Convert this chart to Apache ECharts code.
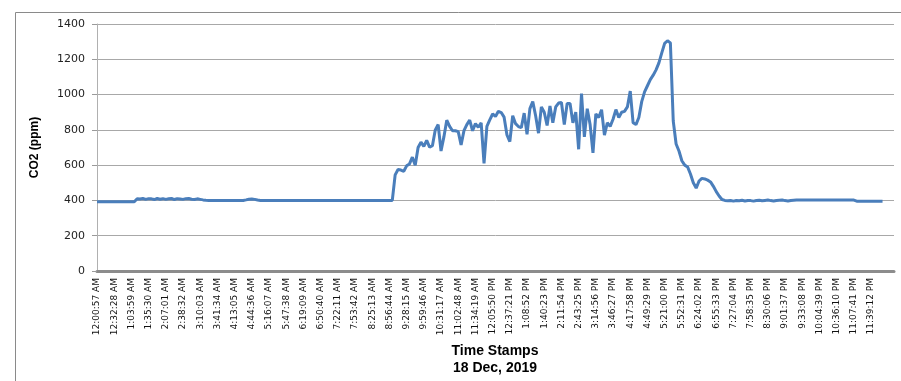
<!DOCTYPE html>
<html>
<head>
<meta charset="utf-8">
<script src="https://cdn.jsdelivr.net/npm/echarts@6/dist/echarts.min.js"></script>
<style>
  html, body { margin: 0; padding: 0; background: #fff; }
  #chart { width: 901px; height: 381px; }
</style>
</head>
<body>
<div id="chart"></div>
<script>
// tick labels shown on the time axis (one every 6 samples)
const tickLabels = ['12:00:57 AM', '12:32:28 AM', '1:03:59 AM', '1:35:30 AM', '2:07:01 AM', '2:38:32 AM',
  '3:10:03 AM', '3:41:34 AM', '4:13:05 AM', '4:44:36 AM', '5:16:07 AM', '5:47:38 AM', '6:19:09 AM',
  '6:50:40 AM', '7:22:11 AM', '7:53:42 AM', '8:25:13 AM', '8:56:44 AM', '9:28:15 AM', '9:59:46 AM',
  '10:31:17 AM', '11:02:48 AM', '11:34:19 AM', '12:05:50 PM', '12:37:21 PM', '1:08:52 PM', '1:40:23 PM',
  '2:11:54 PM', '2:43:25 PM', '3:14:56 PM', '3:46:27 PM', '4:17:58 PM', '4:49:29 PM', '5:21:00 PM',
  '5:52:31 PM', '6:24:02 PM', '6:55:33 PM', '7:27:04 PM', '7:58:35 PM', '8:30:06 PM', '9:01:37 PM',
  '9:33:08 PM', '10:04:39 PM', '10:36:10 PM', '11:07:41 PM', '11:39:12 PM'];
const samplesPerTick = 6;

// CO2 readings (ppm)
const nightLevels = [
  393, 393, 393, 393, 393, 393, 393, 393, 393, 393, 393, 393, 393, 393,
  410, 408, 411, 406, 410, 409, 405, 411, 407, 410, 406, 409, 411, 405, 410, 408, 406, 410, 411, 407, 405, 409, 406, 403, 401,
  400, 400, 400, 400, 400, 400, 400, 400, 400, 400, 400, 400, 400,
  403, 407, 408, 406, 402,
  400, 400, 400, 400, 400, 400, 400, 400, 400, 400, 400, 400, 400, 400, 400, 400, 400, 400, 400, 400, 400, 400, 400, 400,
  400, 400, 400, 400, 400, 400, 400, 400, 400, 400, 400, 400, 400, 400, 400, 400, 400, 400, 400, 400, 400, 400, 400
];
const dayLevels = [
  545, 575, 572, 565, 596, 607, 645, 600, 700, 730, 706, 740, 702, 710, 800, 830, 680, 760, 855, 820,
  795, 795, 790, 715, 795, 830, 855, 795, 835, 815, 840, 610, 820, 857, 890, 876, 905, 898, 872, 771,
  733, 880, 835, 819, 812, 895, 775, 920, 960, 880, 781, 930, 900, 825, 935, 840, 930, 952, 955, 830,
  950, 950, 840, 900, 690, 1005, 760, 920, 830, 670, 890, 870, 914, 770, 840, 820, 860, 915, 870, 900,
  905, 930, 1020, 840, 830, 870, 960, 1015, 1050, 1085, 1110, 1140, 1180, 1236, 1290, 1305, 1293, 850
];
const eveningDecay = [720, 680, 625, 600, 590, 550, 500, 470, 510, 525, 522, 515, 505, 480, 450, 425, 405, 400];
const lateLevels = [
  398, 400, 396, 400, 398, 401, 397, 400, 399, 396, 400, 401, 398, 400, 402, 399, 397, 400, 401, 402, 399, 397, 400, 401, 402, 402,
  402, 402, 402, 402, 402, 402, 402, 402, 402, 402, 402, 402, 402, 402, 402, 402, 402, 402, 402,
  396, 396, 396, 396, 396, 396, 396, 396, 396, 396
];

const co2 = nightLevels.concat(dayLevels, eveningDecay, lateLevels);
const slotCount = tickLabels.length * samplesPerTick + 3;
const slots = [];
for (let i = 0; i < slotCount; i++) slots.push('t' + i);

const chart = echarts.init(document.getElementById('chart'));

const options = {
  animation: false,
  grid: {
    left: 97,
    right: 7,
    top: 24,
    bottom: 110
  },
  graphic: [
    {
      type: 'rect',
      shape: { x: 15.5, y: 12.5, width: 1000, height: 500 },
      style: { fill: 'none', stroke: '#8a8a8a', lineWidth: 1 }
    },
    {
      type: 'text',
      x: 495,
      y: 351,
      style: {
        text: 'Time Stamps',
        font: 'bold 14px "Liberation Sans"',
        fill: '#000',
        align: 'center',
        verticalAlign: 'middle'
      }
    },
    {
      type: 'text',
      x: 495,
      y: 368,
      style: {
        text: '18 Dec, 2019',
        font: 'bold 14px "Liberation Sans"',
        fill: '#000',
        align: 'center',
        verticalAlign: 'middle'
      }
    }
  ],
  xAxis: {
    type: 'category',
    data: slots,
    boundaryGap: false,
    axisLine: {
      lineStyle: { color: '#8c8c8c', width: 3 }
    },
    axisTick: { show: false },
    axisLabel: {
      interval: samplesPerTick - 1,
      rotate: 90,
      margin: 7,
      color: '#111',
      fontFamily: 'DejaVu Sans',
      fontSize: 9,
      formatter: function (value, index) {
        return tickLabels[index / samplesPerTick] || '';
      }
    },
    splitLine: { show: false }
  },
  yAxis: {
    type: 'value',
    min: 0,
    max: 1400,
    interval: 200,
    name: 'CO2 (ppm)',
    nameLocation: 'middle',
    nameGap: 56,
    nameRotate: 90,
    nameTextStyle: {
      fontFamily: 'Liberation Sans',
      fontWeight: 'bold',
      fontSize: 12,
      color: '#000'
    },
    axisLine: {
      show: true,
      lineStyle: { color: '#b0b0b0' }
    },
    axisTick: {
      show: true,
      length: 5,
      lineStyle: { color: '#9a9a9a' }
    },
    axisLabel: {
      margin: 12,
      color: '#222',
      fontFamily: 'DejaVu Sans',
      fontSize: 11,
      formatter: function (v) {
        return String(v);
      }
    },
    splitLine: {
      lineStyle: { color: '#a8a8a8', width: 1 }
    }
  },
  series: [
    {
      name: 'CO2',
      type: 'line',
      data: co2,
      showSymbol: false,
      symbol: 'none',
      lineStyle: { color: '#4a7ebb', width: 3 },
      z: 3
    }
  ]
};

chart.setOption(options);
</script>
</body>
</html>
